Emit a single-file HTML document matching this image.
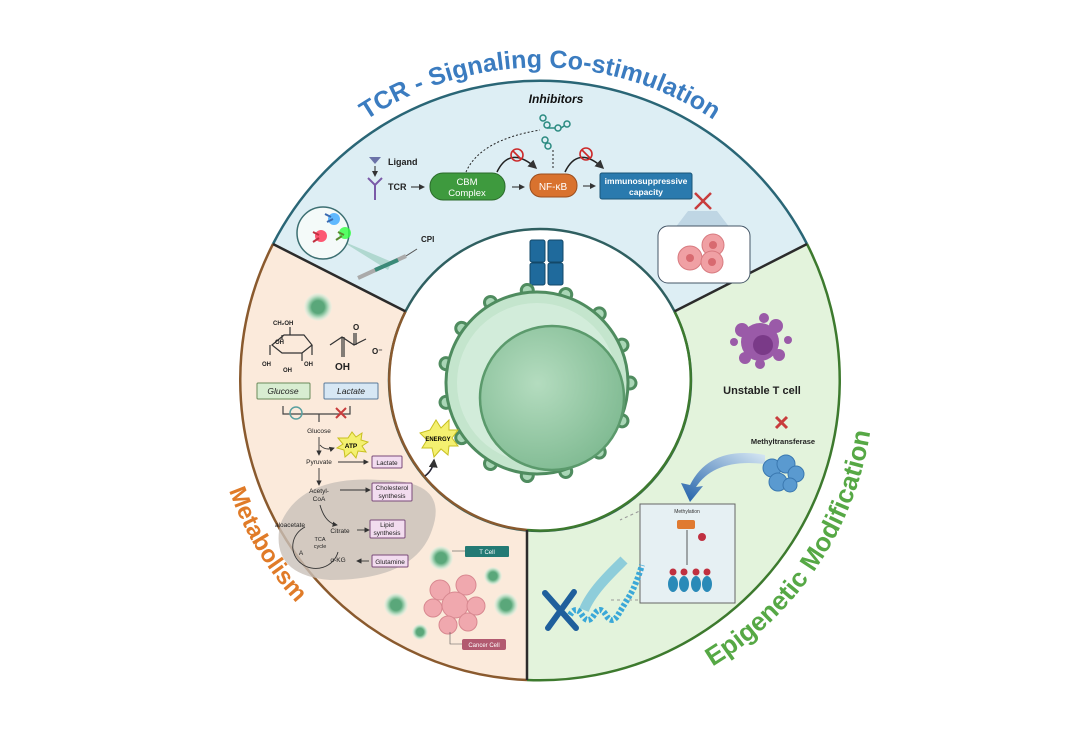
<!DOCTYPE html>
<html><head><meta charset="utf-8"><style>
html,body{margin:0;padding:0;background:#fff;}
svg{display:block;font-family:"Liberation Sans",sans-serif;}
</style></head><body>
<svg width="1080" height="756" viewBox="0 0 1080 756" xmlns="http://www.w3.org/2000/svg">
<defs>
<path id="tp" d="M 246 273 A 313 313 0 0 1 834 273"/>
<path id="mp" d="M 210 379 A 330 330 0 0 0 386 672"/>
<path id="ep" d="M 655 694 A 334 334 0 0 0 874 368"/>
<radialGradient id="ng" cx="0.4" cy="0.4" r="0.7"><stop offset="0" stop-color="#b4dcbf"/><stop offset="1" stop-color="#7cb88f"/></radialGradient>
<radialGradient id="sc" cx="0.5" cy="0.5" r="0.5"><stop offset="0.45" stop-color="#5aa77a"/><stop offset="0.7" stop-color="#a9d6b8"/><stop offset="1" stop-color="#e2f2e6" stop-opacity="0.3"/></radialGradient>
<linearGradient id="ag" x1="1" y1="0" x2="0" y2="1"><stop offset="0" stop-color="#d8e8f4"/><stop offset="1" stop-color="#1f5fa8"/></linearGradient>
<marker id="ar" markerWidth="6" markerHeight="6" refX="5" refY="3" orient="auto"><path d="M0,0 L6,3 L0,6z" fill="#333"/></marker>
</defs>

<path d="M 273 244 A 300 300 0 0 1 807 244 L 674.5 311.4 A 151 151 0 0 0 405.5 311.4 Z" fill="#ddeef4"/>
<path d="M 273 244 L 405.5 311.4 A 151 151 0 0 0 527 530 L 527 680 A 300 300 0 0 1 273 244 Z" fill="#fbeadb"/>
<path d="M 807 244 L 674.5 311.4 A 151 151 0 0 1 527 530 L 527 680 A 300 300 0 0 0 807 244 Z" fill="#e3f3dc"/>
<path d="M 273 244 A 300 300 0 0 1 807 244" fill="none" stroke="#2a6676" stroke-width="2.5"/>
<path d="M 273 244 A 300 300 0 0 0 527 680" fill="none" stroke="#8a5a2e" stroke-width="2.5"/>
<path d="M 807 244 A 300 300 0 0 1 527 680" fill="none" stroke="#3d7a2e" stroke-width="2.5"/>
<circle cx="540" cy="380" r="151" fill="#fff" stroke="#2f5f60" stroke-width="2.5"/>
<path d="M405.5 311.4 A151 151 0 0 0 527 530" fill="none" stroke="#8a5a2e" stroke-width="2.5"/>
<path d="M674.5 311.4 A151 151 0 0 1 527 530" fill="none" stroke="#3d7a2e" stroke-width="2.5"/>
<line x1="273" y1="244" x2="405.5" y2="311.4" stroke="#2b2b2b" stroke-width="2.5"/>
<line x1="807" y1="244" x2="674.5" y2="311.4" stroke="#2b2b2b" stroke-width="2.5"/>
<line x1="527" y1="530" x2="527" y2="680" stroke="#2b2b2b" stroke-width="2.5"/>

<text font-size="25" font-weight="bold" fill="#3b7cc0"><textPath href="#tp" startOffset="50%" text-anchor="middle">TCR - Signaling Co-stimulation</textPath></text>
<text font-size="24" font-weight="bold" fill="#e07b28"><textPath href="#mp" startOffset="50%" text-anchor="middle">Metabolism</textPath></text>
<text font-size="26" font-weight="bold" fill="#56a845"><textPath href="#ep" startOffset="50%" text-anchor="middle">Epigenetic Modification</textPath></text>

<rect x="530" y="240" width="15" height="22" rx="2" fill="#1f6a9c" stroke="#134868"/>
<rect x="548" y="240" width="15" height="22" rx="2" fill="#1f6a9c" stroke="#134868"/>
<rect x="530" y="263" width="15" height="22" rx="2" fill="#1f6a9c" stroke="#134868"/>
<rect x="548" y="263" width="15" height="22" rx="2" fill="#1f6a9c" stroke="#134868"/>
<g transform="translate(537 383)" fill="#a9d6b6" stroke="#4f8c5f" stroke-width="3">
<circle r="6" cx="93" transform="rotate(0)"/><circle r="6" cx="93" transform="rotate(24)"/><circle r="6" cx="93" transform="rotate(48)"/><circle r="6" cx="93" transform="rotate(72)"/><circle r="6" cx="93" transform="rotate(96)"/><circle r="6" cx="93" transform="rotate(120)"/><circle r="6" cx="93" transform="rotate(144)"/><circle r="6" cx="93" transform="rotate(168)"/><circle r="6" cx="93" transform="rotate(192)"/><circle r="6" cx="93" transform="rotate(216)"/><circle r="6" cx="93" transform="rotate(240)"/><circle r="6" cx="93" transform="rotate(264)"/><circle r="6" cx="93" transform="rotate(288)"/><circle r="6" cx="93" transform="rotate(312)"/><circle r="6" cx="93" transform="rotate(336)"/>
<circle r="91" fill="#c4e5cd"/>
</g>
<circle cx="537" cy="383" r="80" fill="#d9efdf" opacity="0.7"/>
<circle cx="552" cy="398" r="72" fill="url(#ng)" stroke="#5b9a6c" stroke-width="2.5"/>

<text x="556" y="103" font-size="12" font-weight="bold" font-style="italic" text-anchor="middle" fill="#111">Inhibitors</text>
<g fill="none" stroke="#2a8a80" stroke-width="1.5">
<circle cx="543" cy="118" r="3"/><circle cx="547" cy="125" r="3"/><circle cx="558" cy="128" r="3"/><circle cx="567" cy="124" r="3"/><circle cx="545" cy="140" r="3"/><circle cx="548" cy="146" r="3"/>
<path d="M547 128 l8 0 M561 128 l3 -2"/>
</g>
<path d="M466 172 Q480 140 540 130" fill="none" stroke="#222" stroke-dasharray="2,2"/>
<line x1="553" y1="150" x2="553" y2="170" stroke="#222" stroke-dasharray="2,2"/>
<path d="M497 172 Q510 145 536 168" fill="none" stroke="#222" stroke-width="1.5" marker-end="url(#ar)"/>
<path d="M565 172 Q578 145 603 168" fill="none" stroke="#222" stroke-width="1.5" marker-end="url(#ar)"/>
<g fill="none" stroke="#cc2a2a" stroke-width="1.6"><circle cx="517" cy="155" r="6"/><line x1="513" y1="151" x2="521" y2="159"/><circle cx="586" cy="154" r="6"/><line x1="582" y1="150" x2="590" y2="158"/></g>
<path d="M369 157 h12 l-6 7z" fill="#6b72a8"/>
<line x1="375" y1="166" x2="375" y2="176" stroke="#222" marker-end="url(#ar)"/>
<path d="M368 178 l7 7 l7 -7 M375 185 v15" fill="none" stroke="#7a5aa8" stroke-width="2"/>
<text x="388" y="165" font-size="9" font-weight="bold" fill="#222">Ligand</text>
<text x="388" y="190" font-size="9" font-weight="bold" fill="#222">TCR</text>
<line x1="411" y1="187" x2="424" y2="187" stroke="#222" marker-end="url(#ar)"/>
<rect x="430" y="173" width="75" height="27" rx="13" fill="#3e9a3e" stroke="#2a6a2a"/>
<text x="467" y="185" font-size="9.5" fill="#fff" text-anchor="middle">CBM</text>
<text x="467" y="196" font-size="9.5" fill="#fff" text-anchor="middle">Complex</text>
<line x1="512" y1="187" x2="524" y2="187" stroke="#222" marker-end="url(#ar)"/>
<rect x="530" y="174" width="47" height="23" rx="11" fill="#d9722e" stroke="#9a4e1e"/>
<text x="553" y="190" font-size="10" fill="#fff" text-anchor="middle">NF-κB</text>
<line x1="583" y1="186" x2="595" y2="186" stroke="#222" marker-end="url(#ar)"/>
<rect x="600" y="173" width="92" height="26" rx="2" fill="#2a7aae" stroke="#1a5578"/>
<text x="646" y="184" font-size="8.5" font-weight="bold" fill="#fff" text-anchor="middle">immunosuppressive</text>
<text x="646" y="195" font-size="8.5" font-weight="bold" fill="#fff" text-anchor="middle">capacity</text>
<path d="M695 193 l16 16 M711 193 l-16 16" stroke="#c83c3c" stroke-width="2.5"/>
<path d="M688 211 L675 228 L730 228 L717 211 Z" fill="#b8cfe0" opacity="0.8"/>
<rect x="658" y="226" width="92" height="57" rx="10" fill="#fff" stroke="#456"/>
<g fill="#f0a0a4" stroke="#d87b80"><circle cx="690" cy="258" r="12"/><circle cx="713" cy="245" r="11"/><circle cx="712" cy="262" r="11"/></g>
<g fill="#d86a70"><circle cx="690" cy="258" r="4"/><circle cx="713" cy="245" r="4"/><circle cx="712" cy="262" r="4"/></g>
<path d="M340 240 L392 262 L388 270 Z" fill="#9ccfc0" opacity="0.7"/>
<circle cx="323" cy="233" r="26" fill="#f4faf9" stroke="#3c6f72" stroke-width="1.5"/>
<circle cx="334" cy="219" r="6" fill="#3aa8ff" opacity="0.8"/><circle cx="321" cy="236" r="6" fill="#ff3050" opacity="0.8"/><circle cx="345" cy="233" r="6" fill="#30ff40" opacity="0.8"/>
<path d="M325 214 l6 3 M327 222 l6 -3" stroke="#3a6ab0" stroke-width="2"/>
<path d="M313 232 l6 3 M313 242 l6 -4" stroke="#c03040" stroke-width="2"/>
<path d="M338 232 l6 3 M336 240 l6 -4" stroke="#5a8a30" stroke-width="2"/>
<line x1="358" y1="278" x2="406" y2="256" stroke="#aaa" stroke-width="4"/>
<line x1="375" y1="270" x2="398" y2="260" stroke="#3a8a78" stroke-width="4"/>
<line x1="406" y1="256" x2="417" y2="249" stroke="#555" stroke-width="1"/>
<text x="421" y="242" font-size="8" font-weight="bold" fill="#222">CPI</text>

<circle cx="318" cy="307" r="14" fill="url(#sc)"/>
<g fill="none" stroke="#333" stroke-width="1.2">
<path d="M272 345 l12 -10 h20 l8 10 l-10 8 h-20 z"/>
<path d="M290 335 v-8 M270 345 v10 M302 353 v8 M312 345 v10 M282 340 v-5"/>
<path d="M330 345 l12 -8 l12 8 l12 -6 M354 345 v-12 M356 345 v-12 M342 337 v20 M344 337 v20"/>
</g>
<g font-size="6" fill="#222" font-weight="bold"><text x="273" y="325">CH₂OH</text><text x="275" y="344">OH</text><text x="262" y="366">OH</text><text x="283" y="372">OH</text><text x="304" y="366">OH</text><text x="335" y="370" font-size="10">OH</text><text x="353" y="330" font-size="8">O</text><text x="372" y="354" font-size="8">O⁻</text></g>
<rect x="257" y="383" width="53" height="16" rx="1" fill="#d8edd1" stroke="#6a8a5a"/>
<text x="283" y="394" font-size="8.5" font-style="italic" text-anchor="middle" fill="#222">Glucose</text>
<rect x="324" y="383" width="54" height="16" rx="1" fill="#d7e7f4" stroke="#5a7a9a"/>
<text x="351" y="394" font-size="8.5" font-style="italic" text-anchor="middle" fill="#222">Lactate</text>
<path d="M283 406 v8 h67 v-8 M319 414 v8" fill="none" stroke="#444" stroke-width="1.2"/>
<circle cx="296" cy="413" r="6" fill="none" stroke="#5aa0a0" stroke-width="1.5"/>
<path d="M336 408 l10 10 M346 408 l-10 10" stroke="#c83c3c" stroke-width="2"/>
<path d="M280 525 Q300 475 380 480 Q450 480 432 530 Q415 580 330 580 Q270 575 280 525z" fill="#c9c1b9" opacity="0.8"/>
<g font-size="6.5" fill="#222">
<text x="319" y="433" text-anchor="middle">Glucose</text>
<text x="319" y="464" text-anchor="middle">Pyruvate</text>
<text x="319" y="493" text-anchor="middle">Acetyl-</text><text x="319" y="501" text-anchor="middle">CoA</text>
</g>
<g stroke="#333" fill="none" stroke-width="0.9">
<path d="M319 437 v18" marker-end="url(#ar)"/><path d="M319 468 v17" marker-end="url(#ar)"/>
<path d="M320 445 q5 6 14 3" marker-end="url(#ar)"/>
<path d="M338 462 h30" marker-end="url(#ar)"/><path d="M340 490 h30" marker-end="url(#ar)"/>
<path d="M357 530 h12" marker-end="url(#ar)"/><path d="M369 561 h-12" marker-end="url(#ar)"/>
<path d="M320 505 q5 18 17 20" marker-end="url(#ar)"/>
<path d="M305 527 a23 22 0 1 0 33 25"/>
</g>
<polygon points="348,438 352,432 356,437 362,433 361,440 368,442 362,446 366,452 358,451 356,458 351,452 345,457 344,450 337,448 343,444 338,438" fill="#f4f070" stroke="#c8c020"/>
<text x="351" y="448" font-size="6.5" font-weight="bold" text-anchor="middle">ATP</text>
<polygon points="430,430 436,420 441,428 449,420 449,430 458,430 452,438 458,446 449,446 448,455 441,449 434,457 432,448 422,448 427,440 420,433" fill="#f4f070" stroke="#c8c020"/>
<text x="438" y="441" font-size="6" font-weight="bold" text-anchor="middle">ENERGY</text>
<path d="M425 476 q8 -6 9 -16" fill="none" stroke="#223" stroke-width="1.5" marker-end="url(#ar)"/>
<g fill="#f2dcef" stroke="#7a4a7a"><rect x="372" y="456" width="30" height="12" rx="1"/><rect x="372" y="483" width="40" height="18" rx="1"/><rect x="370" y="520" width="35" height="18" rx="1"/><rect x="372" y="555" width="36" height="12" rx="1"/></g>
<g font-size="6.5" fill="#222" text-anchor="middle">
<text x="387" y="465">Lactate</text><text x="392" y="490">Cholesterol</text><text x="392" y="498">synthesis</text>
<text x="387" y="527">Lipid</text><text x="387" y="535">synthesis</text><text x="390" y="564">Glutamine</text>
<text x="340" y="533">Citrate</text><text x="320" y="541" font-size="5.5">TCA</text><text x="320" y="548" font-size="5.5">cycle</text>
<text x="338" y="562">α-KG</text><text x="290" y="527">aloacetate</text><text x="301" y="555">A</text>
</g>
<g><circle cx="441" cy="558" r="12" fill="url(#sc)"/><circle cx="493" cy="576" r="9" fill="url(#sc)"/><circle cx="396" cy="605" r="12" fill="url(#sc)"/><circle cx="506" cy="605" r="12" fill="url(#sc)"/><circle cx="420" cy="632" r="8" fill="url(#sc)"/></g>
<g fill="#f0a8ae" stroke="#d88890"><circle cx="440" cy="590" r="10"/><circle cx="466" cy="585" r="10"/><circle cx="455" cy="605" r="13"/><circle cx="433" cy="608" r="9"/><circle cx="476" cy="606" r="9"/><circle cx="448" cy="625" r="9"/><circle cx="468" cy="622" r="9"/></g>
<line x1="452" y1="551" x2="465" y2="551" stroke="#555" stroke-width="0.6"/>
<rect x="465" y="546" width="44" height="11" rx="1" fill="#237a74"/>
<text x="487" y="554" font-size="6" fill="#fff" text-anchor="middle">T Cell</text>
<path d="M450 632 v12 h12" fill="none" stroke="#555" stroke-width="0.6"/>
<rect x="462" y="639" width="44" height="11" rx="2" fill="#b25a70"/>
<text x="484" y="647" font-size="6" fill="#fff" text-anchor="middle">Cancer Cell</text>

<g fill="#9a5aa8"><circle cx="760" cy="342" r="19"/><circle cx="742" cy="330" r="7"/><circle cx="776" cy="326" r="7"/><circle cx="779" cy="355" r="6"/><circle cx="745" cy="358" r="6"/><circle cx="734" cy="342" r="4"/><circle cx="788" cy="340" r="4"/><circle cx="764" cy="318" r="5"/><circle cx="760" cy="364" r="5"/></g>
<circle cx="763" cy="345" r="10" fill="#7a3a88"/>
<text x="762" y="394" font-size="11" font-weight="bold" text-anchor="middle" fill="#222">Unstable T cell</text>
<path d="M776 417 l11 11 M787 417 l-11 11" stroke="#c83c3c" stroke-width="3"/>
<text x="783" y="444" font-size="7.5" font-weight="bold" text-anchor="middle" fill="#222">Methyltransferase</text>
<path d="M765 455 Q710 445 690 485 L681 483 L690 502 L703 486 L696 487 Q715 458 765 464 Z" fill="url(#ag)"/>
<g fill="#5a9ad0" stroke="#3a78b0"><circle cx="772" cy="468" r="9"/><circle cx="786" cy="464" r="9"/><circle cx="796" cy="474" r="8"/><circle cx="778" cy="482" r="9"/><circle cx="790" cy="485" r="7"/></g>
<path d="M644 509 L620 520 M644 600 L610 600" stroke="#999" stroke-dasharray="3,3" fill="none"/>
<rect x="640" y="504" width="95" height="99" fill="#e6f0f3" stroke="#666"/>
<text x="687" y="513" font-size="5" text-anchor="middle" fill="#333">Methylation</text>
<rect x="677" y="520" width="18" height="9" rx="2" fill="#e07a30"/>
<circle cx="702" cy="537" r="4" fill="#c03040"/>
<line x1="687" y1="530" x2="687" y2="565" stroke="#333" stroke-width="0.8"/>
<g fill="#c03040"><circle cx="673" cy="572" r="3.5"/><circle cx="684" cy="572" r="3.5"/><circle cx="696" cy="572" r="3.5"/><circle cx="707" cy="572" r="3.5"/></g>
<g fill="#2a8ab8"><ellipse cx="673" cy="584" rx="5" ry="8"/><ellipse cx="684" cy="584" rx="5" ry="8"/><ellipse cx="696" cy="584" rx="5" ry="8"/><ellipse cx="707" cy="584" rx="5" ry="8"/></g>
<path d="M570 615 q6 -10 12 0 q6 10 12 0 q6 -10 12 0 q6 10 12 0 q6 -10 12 -20 q6 -10 12 -30" fill="none" stroke="#3aa8d8" stroke-width="6" stroke-dasharray="3,2"/>
<path d="M584 610 c8 -20 30 -40 40 -50" fill="none" stroke="#3aa8d8" stroke-width="10" opacity="0.5"/>
<path d="M545 593 L576 628 M548 628 L574 592" stroke="#1f5f9c" stroke-width="6" stroke-linecap="round"/>
</svg>
</body></html>
